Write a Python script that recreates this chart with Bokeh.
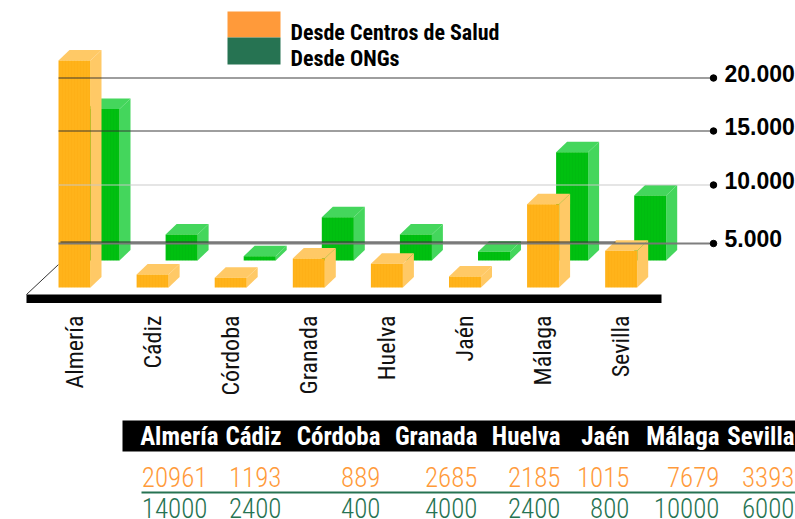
from bokeh.plotting import figure
from bokeh.models import Range1d
from bokeh.core.properties import value
from bokeh.embed import file_html
from bokeh.resources import INLINE

provincias = ["Almería", "Cádiz", "Córdoba", "Granada", "Huelva", "Jaén", "Málaga", "Sevilla"]
centros = [20961, 1193, 889, 2685, 2185, 1015, 7679, 3393]
ongs = [14000, 2400, 400, 4000, 2400, 800, 10000, 6000]
eje_textos = ["5.000", "10.000", "15.000", "20.000"]
leyenda = ["Desde Centros de Salud", "Desde ONGs"]

# layout (page pixels of the drawing)
W, H = 795, 519
X0, DX = 74.0, 78.1          # page x of first category, spacing
Y0, KY = 287.0, 0.01083      # page y of value 0, px per value unit
wall_y = [243, 184.5, 130.5, 77.5]   # the wall gridlines of the pseudo-3D drawing
col_right = [207, 281, 380, 477, 560, 629, 719, 794]
head_right = [218, 281, 380, 477, 560, 629, 719, 794]

def xd(px): return (px - X0) / DX
def yd(py): return (Y0 - py) / KY

C_OR_F, C_OR_S = "#FFB31A", "#FFC966"
C_GR_F, C_GR_S = "#00C010", "#44D65C"
C_LEG_O, C_LEG_G = "#FF9A3A", "#267352"

p = figure(width=W, height=H, output_backend="svg", toolbar_location=None,
           x_range=Range1d(xd(0), xd(795)), y_range=Range1d(yd(519), yd(0)),
           min_border=0, outline_line_color=None)
p.xaxis.visible = False
p.yaxis.visible = False
p.grid.visible = False
p.background_fill_color = "white"

hw, ddx, ddy = 16 / DX, 11 / DX, 10.5 / KY
goff, gbase = 29 / DX, 27 / KY

def bars(vals, xoff, base, cf, cs, hc):
    xs = [i + xoff for i in range(len(vals))]
    l = [x - hw for x in xs]; r = [x + hw for x in xs]
    b = [base] * len(vals); t = [base + v for v in vals]
    p.patches([[a, a + ddx, c + ddx, c] for a, c in zip(l, r)],
              [[y, y + ddy, y + ddy, y] for y in t], fill_color=cs, line_color=None)
    p.patches([[c, c + ddx, c + ddx, c] for c in r],
              [[y0, y0 + ddy, y1 + ddy, y1] for y0, y1 in zip(b, t)], fill_color=cs, line_color=None)
    p.quad(left=l, right=r, bottom=b, top=t, fill_color=cf, line_color=None,
           hatch_pattern="vertical_line", hatch_color=hc, hatch_alpha=0.12, hatch_scale=3, hatch_weight=1)

# floor
p.segment(xd(26), yd(294), xd(58), yd(264), line_color="#333333", line_width=1)
p.quad(left=xd(26), right=xd(661), bottom=yd(302.5), top=yd(294), fill_color="black", line_color=None)

bars(ongs, goff, gbase, C_GR_F, C_GR_S, "#00A010")
bars(centros, 0, 0, C_OR_F, C_OR_S, "#F5A000")

# gridlines + axis
for yy, col, lab in zip(wall_y, ["#777777", "#c8c8c8", "#333333", "#333333"], eje_textos):
    p.segment(xd(58), yd(yy), xd(713), yd(yy), line_color=col, line_width=2 if lab == "5.000" else 1, line_alpha=0.95)
p.segment(xd(60), yd(241.5), xd(615), yd(241.5), line_color="#333333", line_width=1)
p.scatter([xd(713)] * 4, [yd(y) for y in wall_y], size=6.5, color="black")
p.text([xd(724)] * 4, [yd(y - 5) for y in wall_y], text=eje_textos,
       text_font=value("Liberation Sans"), text_font_style="bold", text_font_size="23px",
       text_color="black", text_baseline="middle", text_align="left")

# legend
p.quad(left=xd(227), right=xd(280), bottom=yd(37), top=yd(11), fill_color=C_LEG_O, line_color=None)
p.quad(left=xd(227), right=xd(280), bottom=yd(64), top=yd(37), fill_color=C_LEG_G, line_color=None)
p.text([xd(290)] * 2, [yd(32), yd(58)], text=leyenda, text_font=value("Roboto Condensed"),
       text_font_style="bold", text_font_size="22px", text_color="black",
       text_baseline="middle", text_align="left")

# rotated category labels
p.text([i for i in range(8)], [yd(315)] * 8, text=provincias, angle=1.5708,
       text_font=value("Roboto Condensed"), text_font_size="24px", text_color="#111111",
       text_baseline="alphabetic", text_align="right")

# table
p.quad(left=xd(122), right=xd(795), bottom=yd(451), top=yd(420), fill_color="black", line_color=None)
p.text([xd(x) for x in head_right], [yd(436)] * 8, text=provincias,
       text_font=value("Roboto Condensed"), text_font_style="bold", text_font_size="25px",
       text_color="white", text_baseline="middle", text_align="right")
p.text([xd(x) for x in col_right], [yd(476.5)] * 8, text=[str(v) for v in centros],
       text_font=value("Roboto Condensed Light"), text_font_size="27px",
       text_color=C_LEG_O, text_baseline="middle", text_align="right")
p.segment(xd(141), yd(492), xd(795), yd(492), line_color=C_LEG_G, line_width=2)
p.text([xd(x) for x in col_right], [yd(507)] * 8, text=[str(v) for v in ongs],
       text_font=value("Roboto Condensed Light"), text_font_size="27px",
       text_color=C_LEG_G, text_baseline="middle", text_align="right")

open("out.html", "w").write(file_html(p, INLINE))
